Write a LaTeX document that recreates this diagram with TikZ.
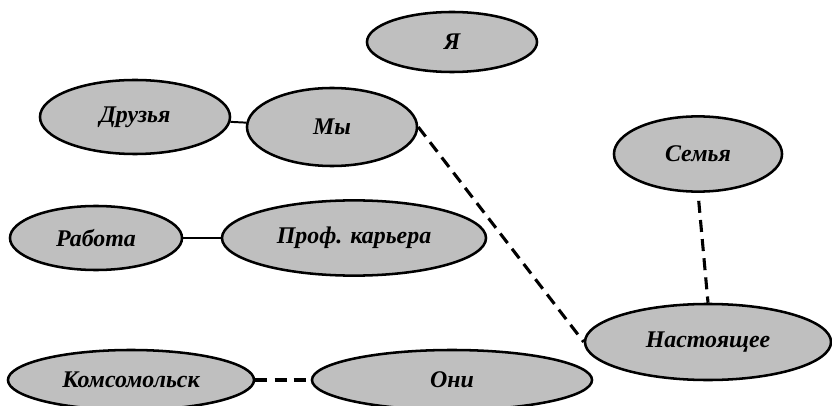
\documentclass[tikz,border=0pt]{standalone}
\usepackage{fontspec}
\setmainfont{Liberation Serif}
\usetikzlibrary{shapes.geometric}

\begin{document}
\begin{tikzpicture}[x=0.025cm, y=-0.025cm, semithick]
\tikzstyle{oval}=[ellipse, draw=black, line width=1.8pt, fill=gray!50, inner sep=0pt,
  font=\fontsize{17}{19}\selectfont\bfseries\itshape]
\tikzstyle{link}=[line width=1.4pt]
\tikzstyle{dlink}=[line width=2.2pt, dash pattern=on 0.3cm off 0.18cm]
\useasboundingbox (0,0) rectangle (832,406);
\node[oval, minimum width=4.25cm,  minimum height=1.5cm]   (ya)     at (452,42)  {Я};
\node[oval, minimum width=4.75cm,  minimum height=1.85cm]  (druz)   at (135,117) {Друзья};
\node[oval, minimum width=4.25cm,  minimum height=1.95cm]  (my)     at (332,127) {Мы};
\node[oval, minimum width=4.3cm,   minimum height=1.6cm]   (rabota) at (96,238)  {Работа};
\node[oval, minimum width=6.6cm,   minimum height=1.88cm]  (prof)   at (354,238) {Проф. карьера};
\node[oval, minimum width=6.15cm,  minimum height=1.5cm]   (komso)  at (131,380) {Комсомольск};
\node[oval, minimum width=7cm,     minimum height=1.5cm]   (oni)    at (452,380) {Они};
\node[oval, minimum width=4.2cm,   minimum height=1.88cm]  (semya)  at (698,154) {Семья};
\node[oval, minimum width=6.15cm,  minimum height=1.9cm]   (nast)   at (708,342) {Настоящее};
\path
(druz)   edge[link]  (my)
(rabota) edge[link]  (prof)
(komso)  edge[dlink] (oni)
(my.east) edge[dlink] (nast.west)
(semya.south) edge[dlink, shorten <=0.2cm] (nast.north);
\end{tikzpicture}
\end{document}
